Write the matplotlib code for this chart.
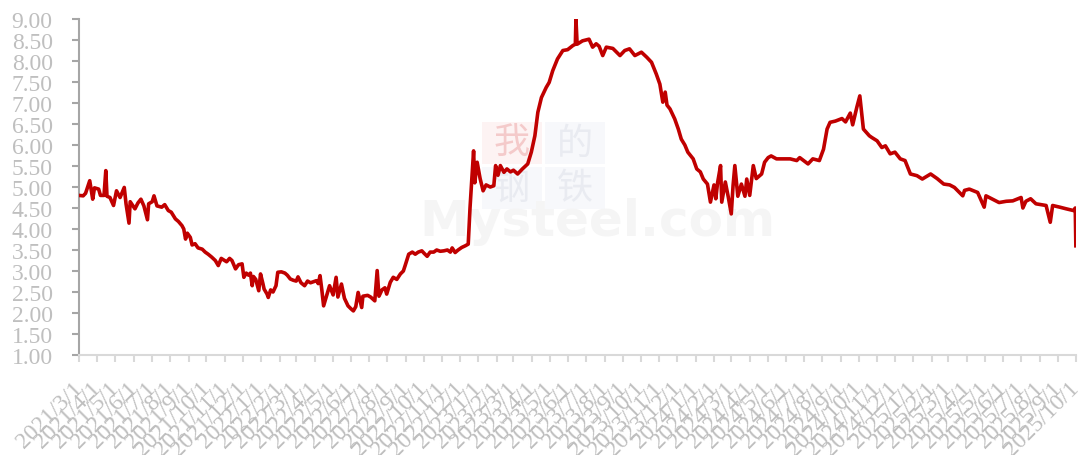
import matplotlib
matplotlib.use('Agg')
import matplotlib.pyplot as plt
import matplotlib.dates as mdates
import matplotlib.transforms as mtransforms
import pandas as pd

# 日期 / 数值
dates = [
    '2021-03-01', '2021-03-08', '2021-03-12', '2021-03-19', '2021-03-24', '2021-03-27',
    '2021-04-03', '2021-04-06', '2021-04-12', '2021-04-15', '2021-04-17', '2021-04-22',
    '2021-04-28', '2021-05-03', '2021-05-09', '2021-05-16', '2021-05-19', '2021-05-24',
    '2021-05-26', '2021-06-03', '2021-06-08', '2021-06-13', '2021-06-18', '2021-06-24',
    '2021-06-26', '2021-07-02', '2021-07-05', '2021-07-10', '2021-07-18', '2021-07-23',
    '2021-07-29', '2021-08-03', '2021-08-10', '2021-08-15', '2021-08-21', '2021-08-24',
    '2021-08-27', '2021-08-30', '2021-09-04', '2021-09-07', '2021-09-12', '2021-09-17',
    '2021-09-24', '2021-09-29', '2021-10-04', '2021-10-10', '2021-10-16', '2021-10-21',
    '2021-10-26', '2021-11-04', '2021-11-09', '2021-11-13', '2021-11-19', '2021-11-24',
    '2021-11-30', '2021-12-03', '2021-12-07', '2021-12-11', '2021-12-14', '2021-12-17',
    '2021-12-19', '2021-12-23', '2021-12-28', '2021-12-31', '2022-01-04', '2022-01-06',
    '2022-01-11', '2022-01-13', '2022-01-17', '2022-01-21', '2022-01-26', '2022-01-29',
    '2022-02-04', '2022-02-10', '2022-02-14', '2022-02-19', '2022-02-24', '2022-03-01',
    '2022-03-04', '2022-03-09', '2022-03-15', '2022-03-20', '2022-03-25', '2022-04-04',
    '2022-04-07', '2022-04-10', '2022-04-13', '2022-04-16', '2022-04-21', '2022-04-26',
    '2022-05-02', '2022-05-07', '2022-05-10', '2022-05-16', '2022-05-21', '2022-05-27',
    '2022-06-01', '2022-06-05', '2022-06-09', '2022-06-13', '2022-06-19', '2022-06-21',
    '2022-06-29', '2022-07-04', '2022-07-11', '2022-07-15', '2022-07-18', '2022-07-23',
    '2022-07-28', '2022-07-31', '2022-08-06', '2022-08-11', '2022-08-17', '2022-08-23',
    '2022-08-28', '2022-08-31', '2022-09-06', '2022-09-12', '2022-09-17', '2022-09-22',
    '2022-09-28', '2022-10-02', '2022-10-07', '2022-10-12', '2022-10-18', '2022-10-23',
    '2022-10-29', '2022-11-04', '2022-11-10', '2022-11-15', '2022-11-18', '2022-11-23',
    '2022-11-28', '2022-12-04', '2022-12-10', '2022-12-15', '2022-12-18', '2022-12-21',
    '2022-12-24', '2022-12-26', '2022-12-30', '2023-01-04', '2023-01-09', '2023-01-14',
    '2023-01-21', '2023-01-27', '2023-01-30', '2023-02-03', '2023-02-07', '2023-02-13',
    '2023-02-18', '2023-02-24', '2023-03-01', '2023-03-08', '2023-03-16', '2023-03-25',
    '2023-03-31', '2023-04-06', '2023-04-11', '2023-04-17', '2023-04-25', '2023-04-30',
    '2023-05-06', '2023-05-14', '2023-05-23', '2023-05-31', '2023-06-09', '2023-06-13',
    '2023-06-14', '2023-06-16', '2023-06-25', '2023-07-06', '2023-07-12', '2023-07-18',
    '2023-07-23', '2023-07-29', '2023-08-04', '2023-08-15', '2023-08-27', '2023-09-04',
    '2023-09-12', '2023-09-21', '2023-10-02', '2023-10-11', '2023-10-19', '2023-10-27',
    '2023-11-02', '2023-11-07', '2023-11-11', '2023-11-14', '2023-11-19', '2023-11-27',
    '2023-12-03', '2023-12-08', '2023-12-14', '2023-12-19', '2023-12-28', '2024-01-03',
    '2024-01-09', '2024-01-14', '2024-01-21', '2024-01-26', '2024-02-01', '2024-02-04',
    '2024-02-07', '2024-02-12', '2024-02-14', '2024-02-20', '2024-02-25', '2024-03-01',
    '2024-03-04', '2024-03-07', '2024-03-12', '2024-03-18', '2024-03-24', '2024-03-27',
    '2024-04-01', '2024-04-07', '2024-04-12', '2024-04-21', '2024-04-26', '2024-05-02',
    '2024-05-07', '2024-05-16', '2024-05-30', '2024-06-08', '2024-06-19', '2024-06-24',
    '2024-07-08', '2024-07-16', '2024-07-27', '2024-08-03', '2024-08-09', '2024-08-14',
    '2024-08-23', '2024-09-03', '2024-09-09', '2024-09-17', '2024-09-21', '2024-09-28',
    '2024-10-03', '2024-10-09', '2024-10-19', '2024-10-23', '2024-11-01', '2024-11-09',
    '2024-11-15', '2024-11-23', '2024-12-01', '2024-12-10', '2024-12-18', '2024-12-27',
    '2025-01-07', '2025-01-16', '2025-01-30', '2025-02-10', '2025-02-21', '2025-03-03',
    '2025-03-11', '2025-03-25', '2025-03-28', '2025-04-05', '2025-04-19', '2025-04-30',
    '2025-05-03', '2025-05-14', '2025-05-25', '2025-06-06', '2025-06-17', '2025-07-01',
    '2025-07-04', '2025-07-09', '2025-07-17', '2025-07-26', '2025-08-12', '2025-08-19',
    '2025-08-23', '2025-09-04', '2025-09-15', '2025-09-27', '2025-09-30', '2025-10-01',
]
values = [
    4.80, 4.79, 4.85, 5.15, 4.71, 4.98,
    4.95, 4.80, 4.80, 5.39, 4.78, 4.75,
    4.56, 4.91, 4.75, 4.99, 4.60, 4.14,
    4.65, 4.48, 4.62, 4.71, 4.55, 4.22,
    4.60, 4.65, 4.79, 4.55, 4.52, 4.58,
    4.44, 4.40, 4.24, 4.18, 4.08, 4.00,
    3.76, 3.90, 3.80, 3.62, 3.65, 3.55,
    3.52, 3.45, 3.40, 3.33, 3.25, 3.13,
    3.30, 3.22, 3.30, 3.25, 3.05, 3.15,
    3.17, 2.85, 2.95, 2.90, 2.95, 2.65,
    2.87, 2.80, 2.53, 2.93, 2.70, 2.57,
    2.45, 2.37, 2.55, 2.50, 2.65, 2.97,
    2.98, 2.95, 2.90, 2.81, 2.78, 2.76,
    2.86, 2.72, 2.65, 2.76, 2.72, 2.77,
    2.70, 2.89, 2.55, 2.17, 2.41, 2.65,
    2.43, 2.85, 2.38, 2.69, 2.35, 2.17,
    2.10, 2.05, 2.15, 2.49, 2.13, 2.40,
    2.42, 2.38, 2.29, 3.01, 2.40, 2.55,
    2.60, 2.45, 2.73, 2.85, 2.80, 2.93,
    3.00, 3.13, 3.40, 3.45, 3.40, 3.45,
    3.48, 3.42, 3.35, 3.45, 3.45, 3.50,
    3.47, 3.48, 3.50, 3.45, 3.55, 3.44,
    3.50, 3.56, 3.60, 3.64, 4.50, 5.19,
    5.86, 5.10, 5.59, 5.20, 4.91, 5.05,
    5.00, 5.03, 5.51, 5.28, 5.51, 5.35,
    5.43, 5.36, 5.40, 5.31, 5.43, 5.55,
    5.83, 6.22, 6.78, 7.13, 7.37, 7.49,
    7.77, 8.05, 8.25, 8.27, 8.37, 8.40,
    9.00, 8.40, 8.48, 8.52, 8.33, 8.41,
    8.35, 8.13, 8.33, 8.30, 8.13, 8.25,
    8.29, 8.13, 8.21, 8.09, 7.97, 7.69,
    7.45, 7.02, 7.26, 6.95, 6.86, 6.62,
    6.38, 6.14, 6.00, 5.83, 5.67, 5.43,
    5.36, 5.19, 5.07, 4.64, 5.05, 4.72,
    5.10, 5.51, 4.64, 5.12, 4.76, 4.36,
    5.03, 5.51, 4.78, 5.07, 4.78, 5.19,
    4.80, 5.51, 5.20, 5.31, 5.59, 5.70,
    5.74, 5.67, 5.67, 5.67, 5.63, 5.70,
    5.55, 5.67, 5.63, 5.90, 6.38, 6.54,
    6.57, 6.63, 6.55, 6.76, 6.48, 6.90,
    7.17, 6.38, 6.22, 6.18, 6.10, 5.94,
    5.98, 5.79, 5.83, 5.67, 5.63, 5.31,
    5.27, 5.19, 5.31, 5.20, 5.07, 5.05,
    4.99, 4.79, 4.92, 4.95, 4.87, 4.52,
    4.79, 4.71, 4.63, 4.66, 4.67, 4.75,
    4.50, 4.66, 4.72, 4.60, 4.56, 4.16,
    4.56, 4.52, 4.48, 4.44, 4.50, 3.60,
]

df = pd.DataFrame({'date': pd.to_datetime(dates), 'value': values})

plt.rcParams['font.family'] = ['Liberation Serif', 'DejaVu Serif']
label_color = '#BFBFBF'

fig = plt.figure(figsize=(10.78, 4.56), dpi=100)
ax = fig.add_axes([0.0733, 0.2193, 0.9247, 0.7368])

# 水印: 四格 "我的钢铁" + Mysteel.com
box_colors = ['#FDF3F3', '#F7F8FB', '#F7F8FB', '#F7F8FB']
char_colors = ['#F4CACA', '#E9EBF1', '#E9EBF1', '#E9EBF1']
chars = ['我', '的', '钢', '铁']
cells = [(482, 123), (545, 123), (482, 168), (545, 168)]
for (px, py), bc, cc, ch in zip(cells, box_colors, char_colors, chars):
    x0 = (px - 79) / 997
    y0 = (356 - py - 42) / 336
    ax.add_patch(plt.Rectangle((x0, y0), 60 / 997, 42 / 336, transform=ax.transAxes,
                               facecolor=bc, edgecolor='none', zorder=0))
    ax.text(x0 + 30 / 997, y0 + 21 / 336, ch, transform=ax.transAxes, ha='center',
            va='center', fontsize=26, color=cc, family=['Noto Sans CJK SC'], zorder=0)
ax.text(0.52, 0.40, 'Mysteel.com', transform=ax.transAxes, ha='center', va='center',
        fontsize=36, color='#F5F5F5', family=['DejaVu Sans'], fontweight='bold', zorder=0)

ax.plot(df['date'], df['value'], color='#C00000', linewidth=2.6, zorder=3)

ax.set_xlim(pd.Timestamp('2021-03-01'), pd.Timestamp('2025-10-01'))
ax.set_ylim(1, 9)
ax.set_yticks([1 + 0.5 * i for i in range(17)])
ax.yaxis.set_major_formatter(plt.FuncFormatter(lambda v, p: f'{v:.2f}'))

ax.xaxis.set_major_locator(mdates.MonthLocator())
ax.xaxis.set_major_formatter(plt.FuncFormatter(
    lambda v, p: (lambda d: f'{d.year}/{d.month}/{d.day}')(mdates.num2date(v))))

for s in ['top', 'right']:
    ax.spines[s].set_visible(False)
ax.spines['left'].set_color('#A6A6A6')
ax.spines['left'].set_linewidth(1.5)
ax.spines['bottom'].set_color('#D9D9D9')
ax.spines['bottom'].set_linewidth(1.5)

ax.tick_params(axis='y', direction='out', length=5, width=1.5, color='#A6A6A6',
               labelsize=17, labelcolor=label_color, pad=14)
ax.tick_params(axis='x', direction='out', length=5, width=1.5, color='#D9D9D9',
               labelsize=17, labelcolor=label_color, pad=11)

offset = mtransforms.ScaledTranslation(-7 / 100, 0, fig.dpi_scale_trans)
for lbl in ax.get_xticklabels():
    lbl.set_rotation(45)
    lbl.set_ha('right')
    lbl.set_va('top')
    lbl.set_rotation_mode('anchor')
    lbl.set_transform(lbl.get_transform() + offset)

fig.savefig('out.png', dpi=100)
